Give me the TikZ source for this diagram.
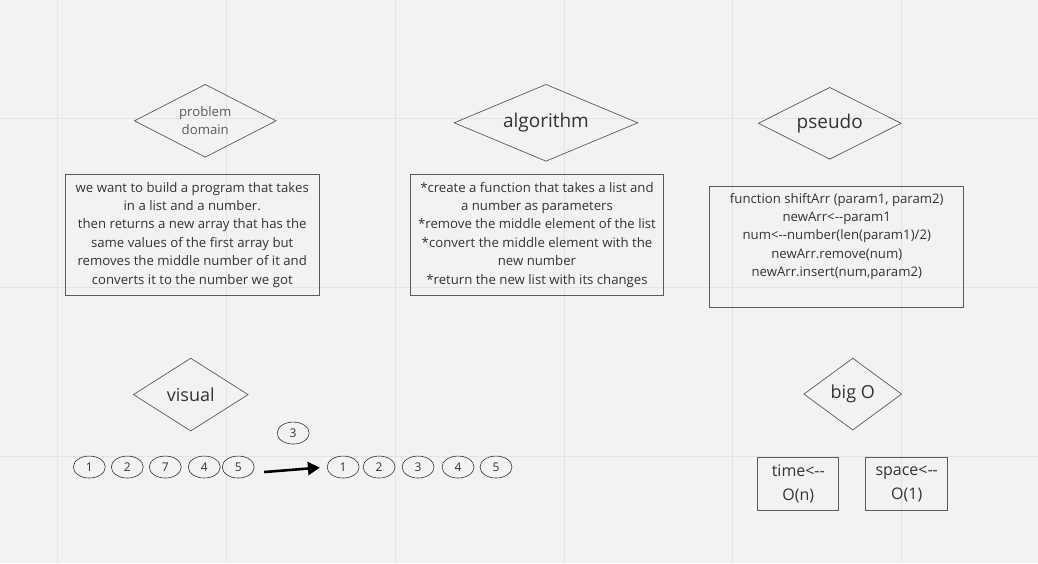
\documentclass[tikz,border=0pt]{standalone}
\usepackage{fontspec}
\setmainfont[Ligatures=TeXOff]{Open Sans}
\usetikzlibrary{shapes.geometric,
	arrows.meta}
\definecolor{boardbg}{HTML}{F2F2F2}
\definecolor{gridline}{HTML}{E3E3E3}
\definecolor{inkgray}{HTML}{5A5A5A}
\definecolor{textgray}{HTML}{333333}

\begin{document}
\begin{tikzpicture}[x=1pt, y=-1pt,
        decision/.style={diamond, draw=inkgray, line width=0.7pt, inner sep=0pt, aspect=2, text=textgray, align=center},
        notebox/.style={rectangle, draw=inkgray, line width=0.9pt, text=textgray, align=center, inner sep=0pt},
        cell/.style={ellipse, draw=textgray, line width=0.6pt, minimum width=32pt, minimum height=22pt, inner sep=0pt, text=textgray, font=\fontsize{12}{14}\selectfont}]
            % board and grid
            \fill[boardbg] (0, 0) rectangle (1038, 563);
            \foreach \gx in {57, 226, 395, 564, 733, 902}
                \draw[gridline, line width=0.8pt] (\gx, 0) -- (\gx, 563);
            \foreach \gy in {118, 287, 456}
                \draw[gridline, line width=0.8pt] (0, \gy) -- (1038, \gy);

            % problem domain
            \node[decision, minimum width=142pt, minimum height=73pt, text=inkgray, font=\fontsize{13.2}{18}\selectfont] (problem) at (205, 120.5) {problem\\domain};
            \node[notebox, minimum width=254pt, minimum height=121pt, font=\fontsize{13.2}{18.4}\selectfont] (problem text) at (192, 234.5)
                {we want to build a program that takes\\in a list and a number.\\then returns a new array that has the\\same values of the first array but\\removes the middle number of it and\\converts it to the number we got};

            % algorithm
            \node[decision, minimum width=184pt, minimum height=77pt, font=\fontsize{19}{22}\selectfont] (algorithm) at (546, 122.5) {algorithm};
            \node[notebox, minimum width=254pt, minimum height=121pt, font=\fontsize{13.2}{18.4}\selectfont] (algorithm text) at (537, 234.5)
                {*create a function that takes a list and\\a number as parameters\\*remove the middle element of the list\\*convert the middle element with the\\new number\\*return the new list with its changes};

            % pseudo
            \node[decision, minimum width=143pt, minimum height=72pt, font=\fontsize{19}{22}\selectfont] (pseudo) at (830, 123) {pseudo};
            \node[notebox, minimum width=254pt, minimum height=121pt] (pseudo box) at (837, 246.5) {};
            \node[anchor=north, text=textgray, align=center, inner sep=0pt, font=\fontsize{13.2}{18.4}\selectfont] (pseudo text) at (837, 192.5)
                {function shiftArr (param1, param2)\\newArr<--param1\\num<--number(len(param1)/2)\\newArr.remove(num)\\newArr.insert(num,param2)};

            % visual
            \node[decision, minimum width=115pt, minimum height=73pt, font=\fontsize{18}{22}\selectfont] (visual) at (190.5, 394.5) {visual};
            \node[cell] (old 1) at (89, 467) {1};
            \node[cell] (old 2) at (127, 467) {2};
            \node[cell] (old 3) at (165, 467) {7};
            \node[cell] (old 4) at (204, 467) {4};
            \node[cell] (old 5) at (238, 467) {5};
            \node[cell] (given) at (293, 433) {3};
            \node[cell] (new 1) at (343, 467) {1};
            \node[cell] (new 2) at (379, 467) {2};
            \node[cell] (new 3) at (418, 467) {3};
            \node[cell] (new 4) at (458, 467) {4};
            \node[cell] (new 5) at (496, 467) {5};
            \coordinate (sort start) at (264, 472);
            \draw[black, line width=2.6pt, -{Triangle[length=12pt, width=13pt]}, shorten >=7pt] (sort start) -- (new 1.west);

            % big O
            \node[decision, minimum width=98pt, minimum height=72pt, font=\fontsize{18}{22}\selectfont] (big o) at (853, 394) {big O};
            \node[notebox, minimum width=81pt, minimum height=53pt, font=\fontsize{16}{24}\selectfont] (time) at (798.5, 483.5) {time<--\\O(n)};
            \node[notebox, minimum width=82pt, minimum height=53pt, font=\fontsize{16}{24}\selectfont] (space) at (907, 483.5) {space<--\\O(1)};
        \end{tikzpicture}
\end{document}
